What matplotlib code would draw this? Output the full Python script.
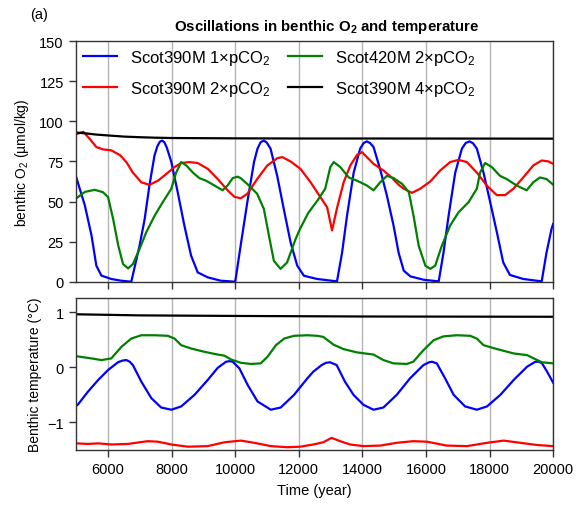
import matplotlib
matplotlib.use("Agg")
import matplotlib.pyplot as plt

plt.rcParams['font.family'] = ['Liberation Sans', 'DejaVu Sans']
plt.rcParams['mathtext.fontset'] = 'custom'
plt.rcParams['mathtext.rm'] = 'Liberation Sans'
plt.rcParams['mathtext.it'] = 'Liberation Sans:italic'
plt.rcParams['mathtext.bf'] = 'Liberation Sans:bold'

# ---------------- data: benthic O2 (umol/kg) ----------------
blue_o2_t = [5000, 5270, 5480, 5630, 5790, 6100, 6420, 6730, 6990, 7150, 7300, 7460, 7550, 7630,
             7700, 7770, 7850, 7990, 8190, 8400, 8610, 8820, 9135, 9550, 10000, 10170, 10380,
             10590, 10700, 10800, 10900, 10990, 11110, 11320, 11530, 11740, 11950, 12160, 12575,
             13200, 13360, 13515, 13725, 13930, 14040, 14140, 14240, 14350, 14560, 14770, 14980,
             15140, 15300, 15510, 15930, 16400, 16550, 16710, 16920, 17130, 17250, 17370, 17480,
             17600, 17810, 18020, 18230, 18430, 18640, 19060, 19640, 19790, 19950, 20000]
blue_o2_v = [65, 47.5, 28.7, 10, 3.8, 1.7, 0.6, 0, 22.5, 39, 60, 78.7, 84.5, 87.3,
             88, 87, 83.5, 74.6, 55.8, 35, 16.3, 5.8, 2.7, 0.6, 0, 22.5, 49.6,
             74.6, 83, 87, 88, 86.8, 83, 66, 45, 24.6, 10, 3.7, 1.7,
             0.2, 18, 41, 68, 83, 86.5, 87.5, 86.5, 84, 70, 53.7, 35,
             18, 6.9, 3.3, 1.2, 0.2, 18, 41, 68, 83, 86.5, 87.5, 86.3,
             83, 68, 49.6, 30.8, 12, 4.2, 1.7, 0.2, 18, 33, 36]

red_o2_t = [5000, 5220, 5425, 5630, 5840, 6100, 6370, 6575, 6780, 7045, 7300, 7570, 7880, 8090,
            8300, 8560, 8820, 9135, 9450, 9760, 9970, 10170, 10380, 10690, 11010, 11320, 11480,
            11740, 12050, 12370, 12680, 12890, 13045, 13200, 13410, 13620, 13830, 13985, 14140,
            14350, 14660, 14920, 15135, 15300, 15560, 15820, 16135, 16450, 16760, 17025, 17285,
            17600, 17910, 18225, 18490, 18750, 19060, 19375, 19640, 19850, 20000]
red_o2_v = [92, 93.5, 89, 84, 82.5, 81.9, 79, 74.6, 68, 62, 60.4, 63, 68, 71.5,
            74, 74.6, 74, 70.4, 64, 57, 53, 52, 54.8, 64, 72.5, 77, 77.7,
            75, 70.4, 62, 52.7, 46.4, 32, 45.8, 62, 72.5, 79, 80.8, 77.7,
            73.5, 69.4, 65, 60.5, 58, 55.4, 58, 62.5, 69.4, 74.6, 76, 74.6,
            68, 60, 54, 54, 58, 65, 72.5, 75.6, 75, 73.5]

green_o2_t = [5000, 5270, 5580, 5840, 6000, 6160, 6320, 6470, 6630, 6780, 6990, 7200, 7460, 7720,
              7990, 8140, 8300, 8460, 8670, 8870, 9080, 9345, 9600, 9760, 9920, 10075, 10170,
              10430, 10690, 10900, 11060, 11215, 11425, 11630, 11900, 12040, 12300, 12600, 12830,
              12990, 13100, 13305, 13570, 13830, 14140, 14350, 14560, 14770, 14980, 15250, 15460,
              15610, 15770, 15980, 16135, 16290, 16500, 16760, 17025, 17340, 17600, 17700, 17860,
              18070, 18330, 18540, 18850, 19165, 19375, 19585, 19795, 20000]
green_o2_v = [52, 56, 57.3, 55.8, 52.7, 39, 22.5, 11, 8.3, 11, 20.4, 30.8, 41, 49.6,
              58, 68, 74.6, 72.5, 68, 64.6, 63, 60, 57, 60, 64.6, 65.5, 64.6,
              60, 54.8, 45.4, 28.7, 13, 8, 12, 26.7, 33, 43, 51, 58,
              71.5, 74.6, 71.5, 65, 63, 60, 57, 62, 66, 64.6, 61, 55.8,
              41, 22.5, 10, 8, 10, 22.5, 35, 43.3, 49.6, 58, 68, 74,
              71.5, 66, 64, 60, 57, 62, 65, 64, 60.5]

black_o2_t = [5000, 5300, 5600, 6000, 6500, 7000, 7500, 8000, 9000, 10000, 12000, 15000, 20000]
black_o2_v = [93, 92.5, 91.8, 91.2, 90.5, 90.1, 89.8, 89.6, 89.5, 89.4, 89.3, 89.3, 89.2]

# ---------------- data: benthic temperature (degC) ----------------
blue_T_t = [5000, 5060, 5370, 5690, 6000, 6310, 6450, 6575, 6680, 6780, 7045, 7360, 7670, 7990,
            8300, 8720, 9135, 9450, 9710, 9820, 9920, 10130, 10390, 10700, 11120, 11430, 11850,
            12270, 12456, 12720, 12850, 12980, 13190, 13450, 13720, 14030, 14350, 14660, 15080,
            15500, 15920, 16100, 16190, 16340, 16600, 16870, 17230, 17600, 17920, 18340, 18760,
            19180, 19440, 19560, 19650, 19810, 20000]
blue_T_v = [-0.70, -0.67, -0.44, -0.23, -0.05, 0.09, 0.12, 0.13, 0.10, 0.04, -0.26, -0.56, -0.73,
            -0.77, -0.71, -0.50, -0.23, -0.01, 0.10, 0.11, 0.10, -0.02, -0.32, -0.62, -0.77, -0.73,
            -0.50, -0.20, -0.08, 0.04, 0.08, 0.09, 0.04, -0.26, -0.50, -0.68, -0.77, -0.73, -0.50,
            -0.20, 0.04, 0.09, 0.10, 0.07, -0.20, -0.50, -0.71, -0.77, -0.71, -0.50, -0.23,
            0.01, 0.10, 0.10, 0.07, -0.08, -0.28]

red_T_t = [5000, 5370, 5690, 6100, 6630, 7250, 7570, 7990, 8510, 9135, 9660, 10180, 10600, 11120,
           11640, 12050, 12456, 12770, 13030, 13300, 13610, 14030, 14560, 15080, 15600, 16030,
           16650, 17290, 17920, 18445, 18970, 19500, 20000]
red_T_v = [-1.38, -1.39, -1.38, -1.40, -1.39, -1.34, -1.35, -1.40, -1.44, -1.43, -1.36, -1.33,
           -1.37, -1.43, -1.45, -1.44, -1.40, -1.36, -1.28, -1.34, -1.40, -1.43, -1.42, -1.37,
           -1.34, -1.35, -1.42, -1.43, -1.37, -1.33, -1.37, -1.41, -1.43]

green_T_t = [5000, 5480, 5790, 6100, 6420, 6730, 7045, 7460, 7880, 8090, 8300, 8610, 9030, 9450,
             9660, 9870, 10180, 10490, 10800, 11015, 11280, 11540, 11850, 12270, 12580, 12770,
             13090, 13400, 13820, 14350, 14660, 14975, 15400, 15600, 15920, 16240, 16550, 16970,
             17390, 17600, 17810, 18230, 18760, 19180, 19390, 19650, 20000]
green_T_v = [0.20, 0.16, 0.13, 0.16, 0.37, 0.52, 0.58, 0.58, 0.57, 0.52, 0.40, 0.34, 0.28, 0.23,
             0.21, 0.14, 0.08, 0.06, 0.07, 0.19, 0.40, 0.52, 0.57, 0.58, 0.57, 0.55,
             0.41, 0.33, 0.27, 0.23, 0.13, 0.07, 0.06, 0.10, 0.31, 0.49, 0.56, 0.58,
             0.57, 0.52, 0.40, 0.33, 0.25, 0.22, 0.16, 0.09, 0.07]

black_T_t = [5000, 7000, 10000, 14000, 20000]
black_T_v = [0.96, 0.94, 0.93, 0.92, 0.915]

labels = ["Scot390M 1×pCO$_2$", "Scot390M 2×pCO$_2$", "Scot420M 2×pCO$_2$", "Scot390M 4×pCO$_2$"]
colors = ["blue", "red", "green", "black"]
xticks = [6000, 8000, 10000, 12000, 14000, 16000, 18000, 20000]
o2_ticks = [0, 25, 50, 75, 100, 125, 150]
T_ticks = [-1, 0, 1]

# ---------------- figure ----------------
fig = plt.figure(figsize=(5.78, 5.10), dpi=100)
ax1 = fig.add_axes([0.132, 0.4457, 0.825, 0.4716])
ax2 = fig.add_axes([0.132, 0.1157, 0.825, 0.298])

lw = 1.6
o2_series = [(blue_o2_t, blue_o2_v), (red_o2_t, red_o2_v), (green_o2_t, green_o2_v), (black_o2_t, black_o2_v)]
T_series = [(blue_T_t, blue_T_v), (red_T_t, red_T_v), (green_T_t, green_T_v), (black_T_t, black_T_v)]
for (t, v), c, lab in zip(o2_series, colors, labels):
    ax1.plot(t, v, color=c, lw=lw, label=lab, solid_joinstyle='round')
for (t, v), c in zip(T_series, colors):
    ax2.plot(t, v, color=c, lw=lw, solid_joinstyle='round')

for ax in (ax1, ax2):
    ax.set_xlim(5000, 20000)
    ax.set_xticks(xticks)
    ax.grid(axis='x', color='#b4b4b4', lw=1)
    ax.set_axisbelow(True)
    ax.tick_params(direction='out', length=5, width=1, color='#333333', labelsize=10.5, pad=4)
    for s in ax.spines.values():
        s.set_color('#333333')
        s.set_linewidth(1)

ax1.set_ylim(0, 150)
ax1.set_yticks(o2_ticks)
ax1.tick_params(axis='x', labelbottom=False)
ax1.set_ylabel("benthic O$_2$ (µmol/kg)", fontsize=10, labelpad=6)
ax1.set_title("Oscillations in benthic O$_\\mathbf{2}$ and temperature", fontsize=10.8,
              fontweight='bold', pad=8, x=0.525)
ax1.legend(loc='upper left', ncol=2, frameon=False, fontsize=12, handlelength=2.05,
           columnspacing=1.0, labelspacing=0.72, borderpad=0.2, borderaxespad=0.2,
           handletextpad=0.8)

ax2.set_ylim(-1.5, 1.255)
ax2.set_yticks(T_ticks)
ax2.set_ylabel("Benthic temperature (°C)", fontsize=10)
ax2.set_xlabel("Time (year)", fontsize=10.5, labelpad=5)

fig.align_ylabels([ax1, ax2])
fig.text(30 / 578, 1 - 15 / 510, "(a)", fontsize=10.5, va='center', ha='left')

fig.savefig("out.png", dpi=100)
